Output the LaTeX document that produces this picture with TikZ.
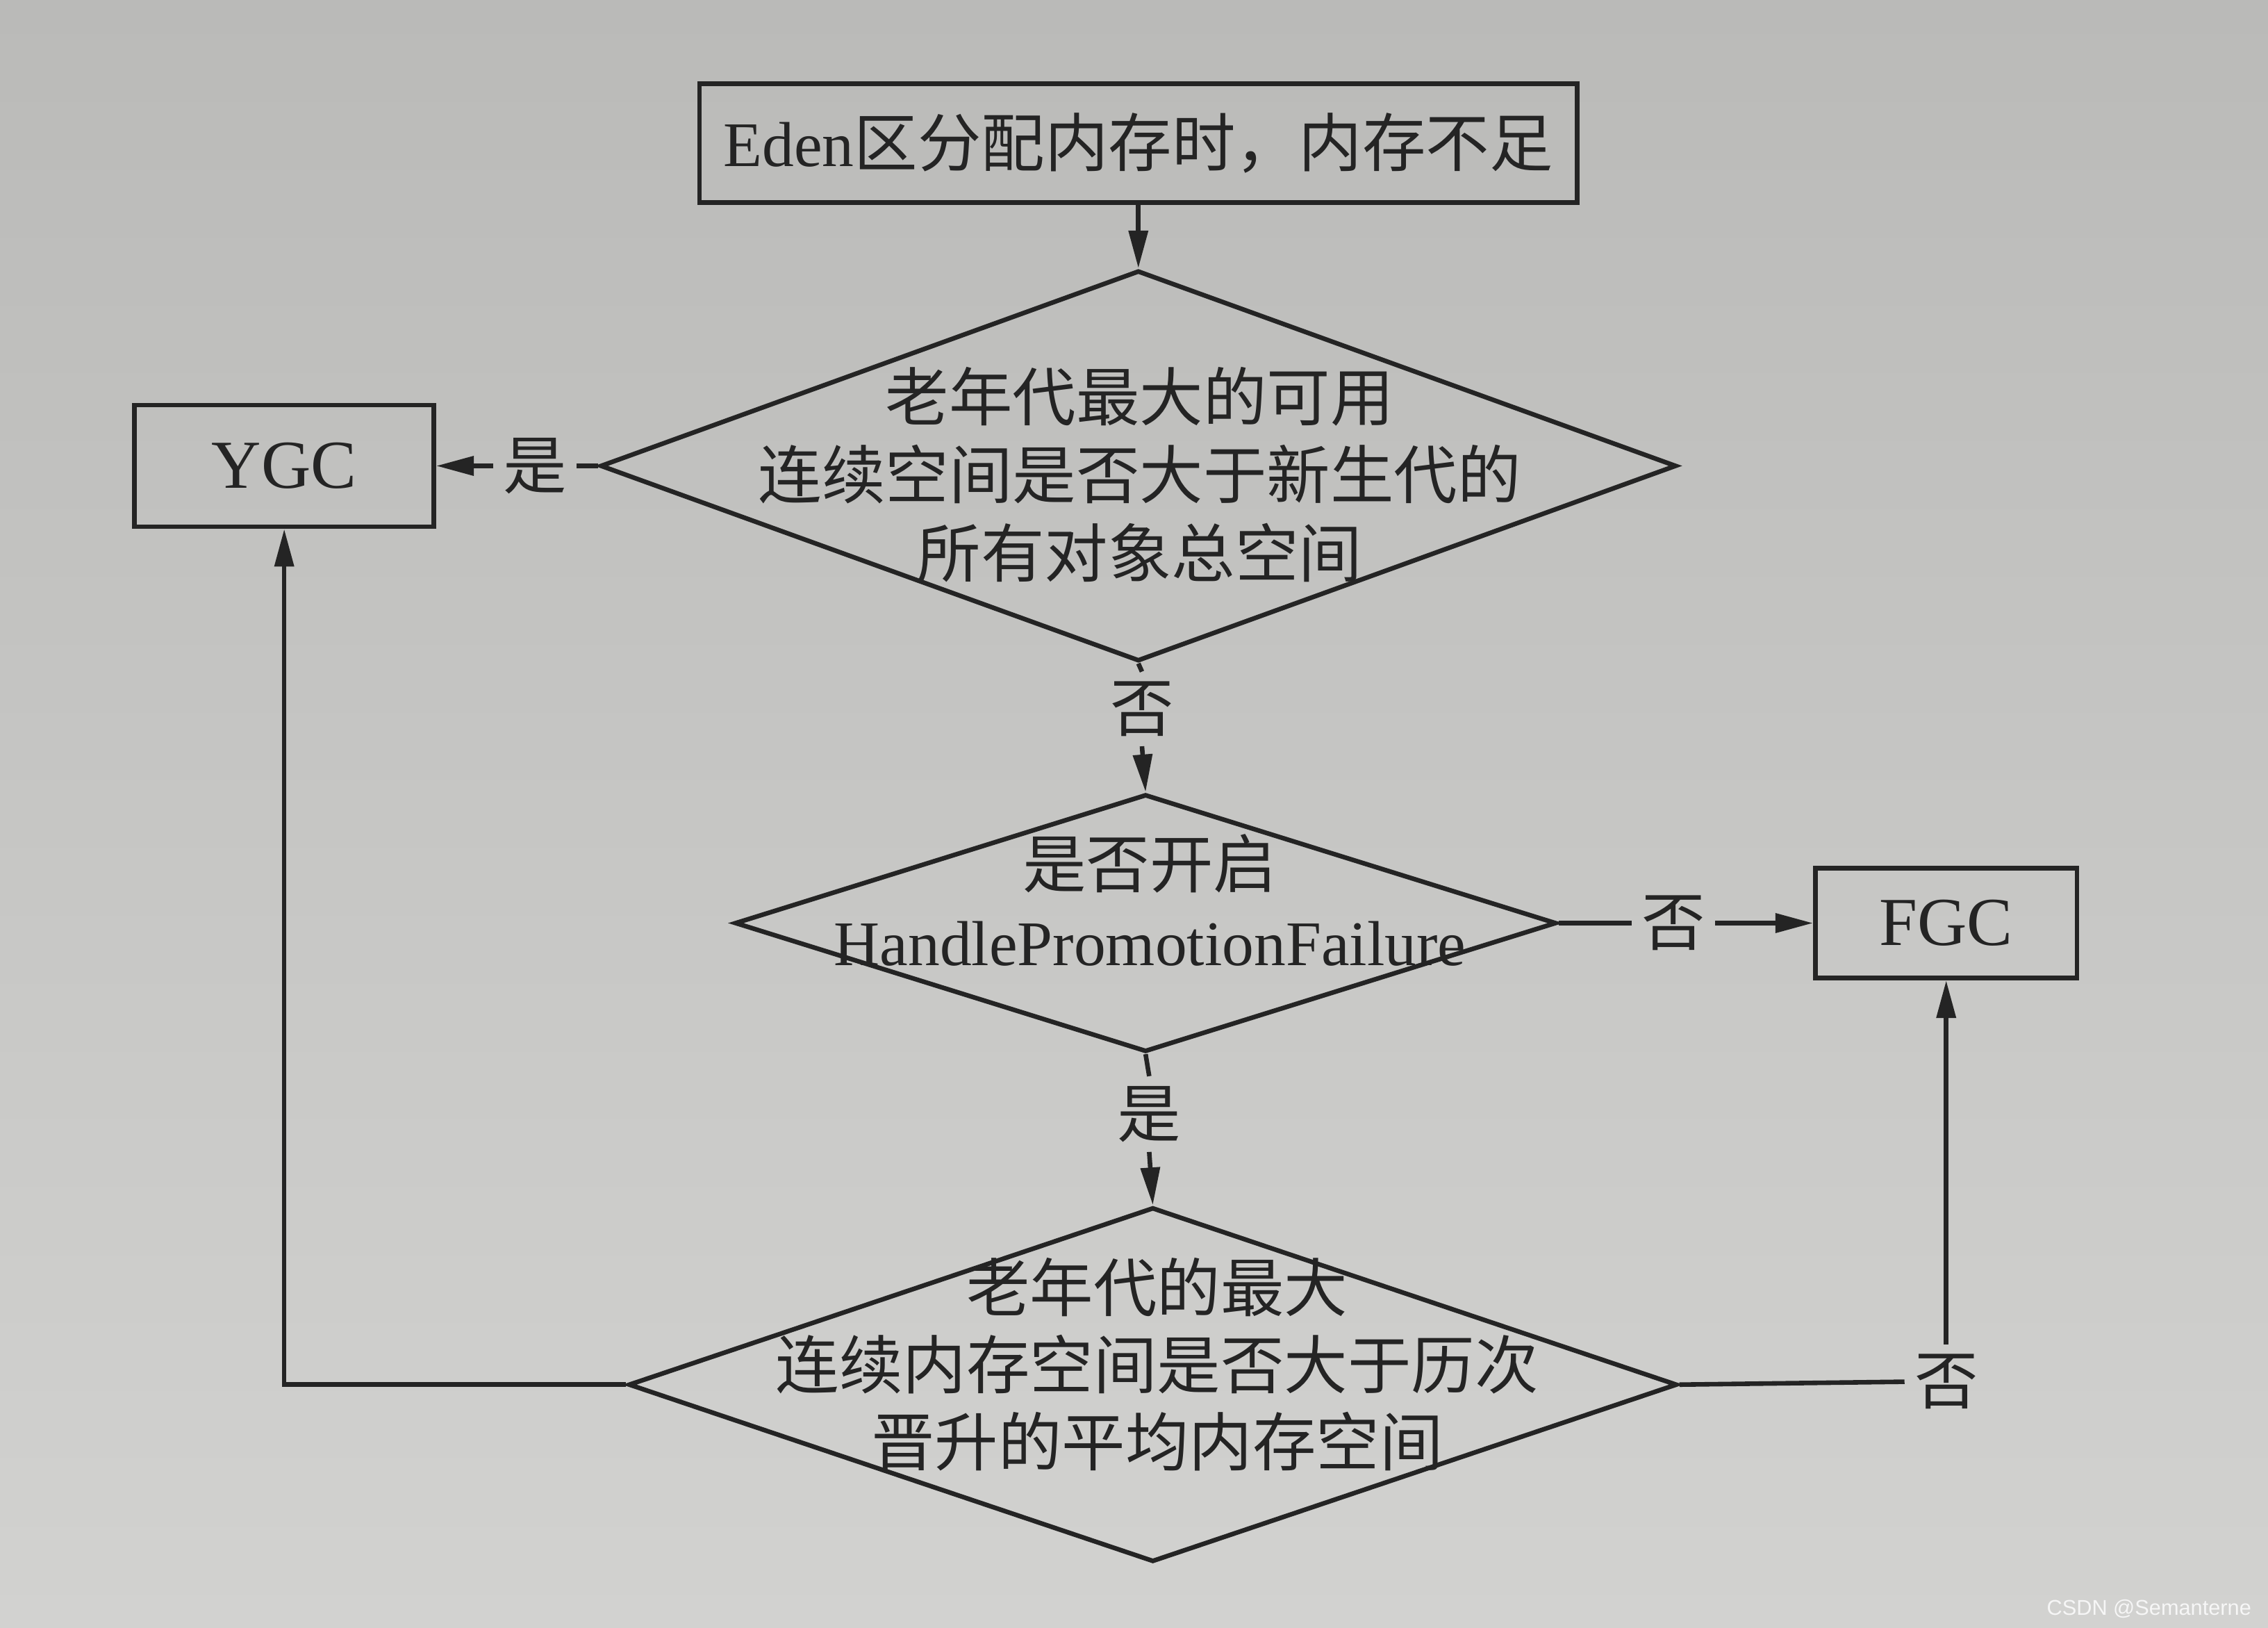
\documentclass[tikz,border=0pt]{standalone}
\usepackage{fontspec}
\setmainfont{Liberation Serif}
\newfontfamily\cjk{Noto Sans CJK SC}
\newfontfamily\wmfont{Liberation Sans}
\usepackage{xcolor}
\definecolor{PaperTop}{RGB}{186,186,184}
\definecolor{PaperBot}{RGB}{210,210,208}
\definecolor{InkGray}{RGB}{36,36,36}
\usetikzlibrary{arrows.meta, shapes.geometric, positioning}

\begin{document}
\begin{tikzpicture}[
    line width=0.9pt, color=InkGray,
    box/.style={draw, rectangle, inner sep=0pt},
    decide/.style={draw, diamond, inner sep=0pt},
    txt/.style={font=\fontsize{12.5}{15.3}\selectfont, align=center, inner sep=1pt},
    lab/.style={font=\fontsize{12.5}{15}\selectfont\cjk, inner sep=1.5pt},
    arr/.style={-{Triangle[length=2.6mm,width=1.3mm]}}
  ]
      \useasboundingbox (0,0) rectangle (15.68,11.25);
      \shade[top color=PaperTop, bottom color=PaperBot] (0,0) rectangle (15.68,11.25);

      % boxes
      \node[box, minimum width=6.07cm, minimum height=0.82cm, txt] (eden) at (7.87,10.26)
            {Eden{\cjk 区分配内存时，内存不足}};
      \node[box, minimum width=2.07cm, minimum height=0.84cm,
            font=\fontsize{13.5}{16}\selectfont] (ygc) at (1.965,8.03) {YGC};
      \node[box, minimum width=1.81cm, minimum height=0.76cm,
            font=\fontsize{13.5}{16}\selectfont] (fgc) at (13.455,4.87) {FGC};

      % decisions
      \node[decide, minimum width=7.44cm, minimum height=2.70cm] (oldmax) at (7.87,8.03) {};
      \node[txt, font=\fontsize{12.5}{15.4}\selectfont\cjk] (oldmaxtxt) at (7.88,7.97)
            {老年代最大的可用\\连续空间是否大于新生代的\\所有对象总空间};

      \node[decide, minimum width=5.68cm, minimum height=1.78cm] (promo) at (7.92,4.87) {};
      \node[txt] (promotxt) at (7.95,5.03)
            {{\cjk 是否开启}\\HandlePromotionFailure};

      \node[decide, minimum width=7.25cm, minimum height=2.45cm] (avg) at (7.97,1.68) {};
      \node[txt, font=\fontsize{12.5}{15.2}\selectfont\cjk] (avgtxt) at (8.0,1.82)
            {老年代的最大\\连续内存空间是否大于历次\\晋升的平均内存空间};

      % branch labels
      \node[lab] (yes1) at (3.70,8.03) {是};
      \node[lab] (no1) at (7.895,6.35) {否};
      \node[lab] (no2) at (11.57,4.87) {否};
      \node[lab] (yes2) at (7.945,3.55) {是};
      \node[lab] (no3) at (13.455,1.70) {否};

      % connectors
      \draw[arr] (eden.south) -- (oldmax.north);
      \draw (oldmax.west) -- (yes1.east);
      \draw[arr] (yes1.west) -- (ygc.east);
      \draw (oldmax.south) -- (no1.north);
      \draw[arr] (no1.south) -- (promo.north);
      \draw (promo.east) -- (no2.west);
      \draw[arr] (no2.east) -- (fgc.west);
      \draw (promo.south) -- (yes2.north);
      \draw[arr] (yes2.south) -- (avg.north);
      \draw[arr] (avg.west) -| (ygc.south);
      \draw (avg.east) -- (no3.west);
      \draw[arr] (no3.north) -- (fgc.south);

      \node[font=\wmfont\fontsize{4.2}{5}\selectfont, text=white!80!PaperBot,
            anchor=south east, inner sep=0pt] (wm) at (15.58,0.05)
            {CSDN @Semanterne};
\end{tikzpicture}
\end{document}
